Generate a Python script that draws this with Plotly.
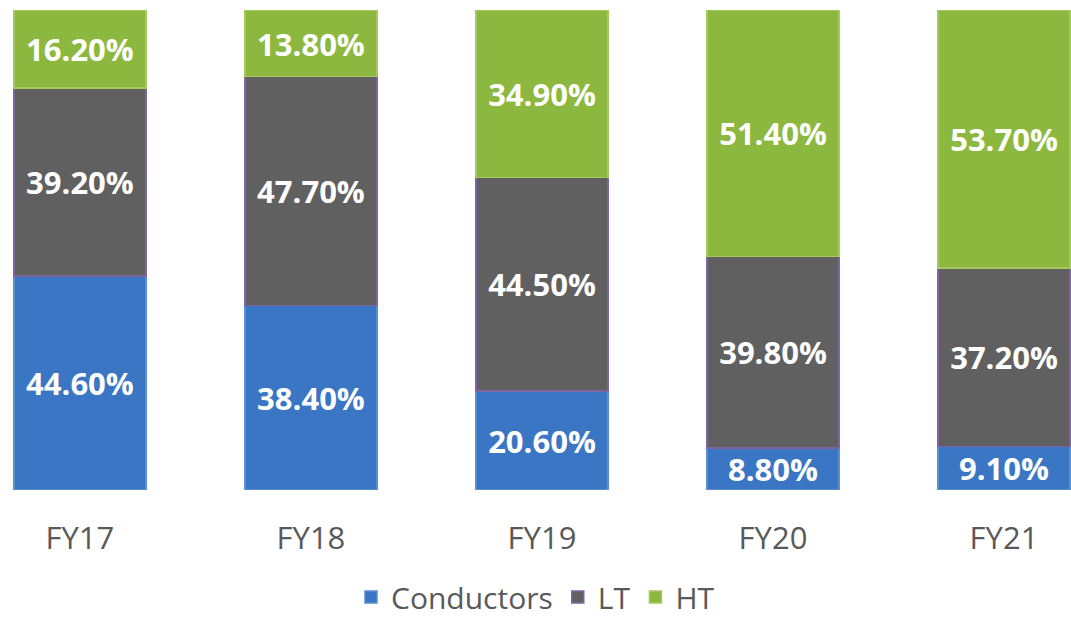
import plotly.graph_objects as go

categories = ["FY17", "FY18", "FY19", "FY20", "FY21"]
conductors = [44.6, 38.4, 20.6, 8.8, 9.1]
lt = [39.2, 47.7, 44.5, 39.8, 37.2]
ht = [16.2, 13.8, 34.9, 51.4, 53.7]

series = [
    ("Conductors", conductors, "#3A76C4", "#5A8FD0"),
    ("LT", lt, "#606060", "#8064A2"),
    ("HT", ht, "#8DB840", "#A4C95E"),
]

fig = go.Figure()
for name, vals, color, line in series:
    fig.add_trace(go.Bar(
        name=name,
        x=categories,
        y=vals,
        width=0.57,
        marker=dict(color=color, line=dict(color=line, width=1.5)),
        text=[f"{v:.2f}%" for v in vals],
        textposition="inside",
        insidetextanchor="middle",
        constraintext="none",
        textfont=dict(family="Open Sans", size=31, color="white", weight="bold"),
        hoverinfo="skip",
    ))

fig.update_layout(
    barmode="stack",
    width=1071,
    height=623,
    margin=dict(l=0, r=0, t=10, b=133, autoexpand=False),
    paper_bgcolor="white",
    plot_bgcolor="white",
    showlegend=True,
    legend=dict(
        orientation="h",
        x=0.5, xanchor="center",
        yref="container",
        y=0.0, yanchor="bottom",
        font=dict(family="Open Sans", size=30, color="#595959"),
        traceorder="normal",
        itemclick=False,
    ),
    xaxis=dict(
        range=[-0.346, 4.29],
        showgrid=False, zeroline=False, showline=False,
        ticks="outside", ticklen=21, tickcolor="rgba(0,0,0,0)",
        tickfont=dict(family="Open Sans", size=31, color="#595959"),
    ),
    yaxis=dict(
        range=[0, 100],
        visible=False,
        showgrid=False, zeroline=False,
    ),
)

fig.write_html("out.html", config={"displayModeBar": False},
               post_script="document.body.style.margin='0';")
